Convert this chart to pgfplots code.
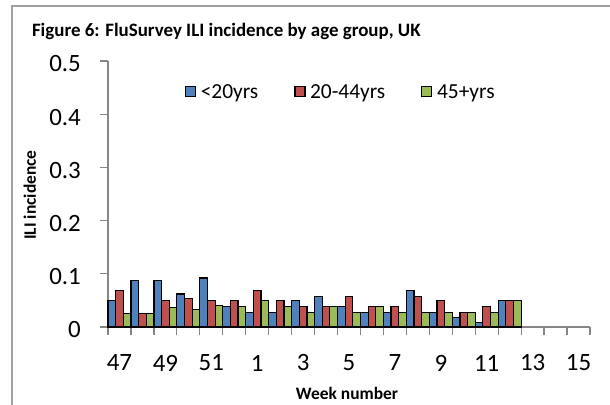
\documentclass[border=0pt]{standalone}
\usepackage{pgfplots}
\pgfplotsset{compat=1.18}
\usepackage{pgfplotstable}
\usepackage{fontspec}
\setmainfont{Carlito}
\definecolor{cblue}{HTML}{4F81BD}
\definecolor{cred}{HTML}{C0504D}
\definecolor{cgreen}{HTML}{9BBB59}
\definecolor{axgray}{HTML}{868686}
\definecolor{framegray}{HTML}{A0A0A0}
\pgfplotstableread{
x b r g
0 0.050 0.069 0.025
1 0.088 0.025 0.025
2 0.088 0.050 0.037
3 0.062 0.053 0.033
4 0.092 0.050 0.041
5 0.038 0.050 0.038
6 0.027 0.069 0.050
7 0.027 0.050 0.038
8 0.050 0.038 0.027
9 0.057 0.038 0.038
10 0.038 0.057 0.027
11 0.027 0.038 0.038
12 0.027 0.038 0.027
13 0.069 0.057 0.027
14 0.027 0.050 0.027
15 0.018 0.027 0.027
16 0.008 0.038 0.027
17 0.050 0.050 0.050
}\datatable
\pgfplotsset{sq/.style={legend image code/.code={%
  \draw[fill=#1, draw=black, line width=1.2bp] (0bp,-4.5bp) rectangle (10bp,5.5bp);\path (13bp,0bp);}}}
\begin{document}
\begin{tikzpicture}
\useasboundingbox (0bp,0bp) rectangle (610bp,405bp);
\draw[framegray, line width=1.2bp] (12bp,-20bp) -- (12bp,399bp) -- (650bp,399bp);
\begin{axis}[
  scale only axis,
  width=482bp, height=266bp,
  at={(108bp,78bp)}, anchor=south west,
  xmin=-0.5, xmax=20.5,
  ymin=0, ymax=0.5,
  axis x line*=bottom, axis y line*=left,
  axis line style={axgray, line width=1.2bp, -},
  ytick={0,0.1,0.2,0.3,0.4,0.5},
  yticklabels={0,0.1,0.2,0.3,0.4,0.5},
  xtick={0,2,...,20},
  xticklabels={47,49,51,1,3,5,7,9,11,13,15},
  minor xtick={-0.5,0.5,...,20.5},
  major x tick style={draw=none},
  minor x tick style={axgray, line width=1.2bp},
  minor tick length=8bp,
  y tick style={axgray, line width=1.2bp},
  major tick length=8bp,
  tick align=outside,
  tick label style={font=\fontsize{25}{30}\selectfont},
  /pgf/number format/assume math mode=true,
  yticklabel style={anchor=east, inner sep=0pt, xshift=-19bp, yshift=-3bp},
  xticklabel style={anchor=center, inner sep=0pt, yshift=-28bp},
  xlabel={\textbf{Week number}},
  ylabel={\textbf{ILI incidence}},
  label style={font=\fontsize{17.5}{20}\selectfont},
  xlabel style={at={(axis description cs:0.496,-0.248)}, anchor=center},
  ylabel style={at={(axis description cs:-0.162,0.496)}, anchor=center, rotate=0},
  title={\textbf{Figure 6: FluSurvey ILI incidence by age group, UK}},
  title style={at={(axis description cs:-0.158,1.088)}, anchor=west, font=\fontsize{19}{22}\selectfont, inner sep=0pt},
  legend columns=3,
  legend style={draw=none, fill=none, at={(axis description cs:0.483,0.883)}, anchor=center,
    font=\fontsize{21.5}{24}\selectfont, /tikz/every even column/.append style={column sep=34bp}},
  clip=false,
]
\addplot[ybar, forget plot, bar width=0.3333, bar shift=-0.3333, fill=cblue, draw=black, line width=1.2bp] table[x=x,y=b]{\datatable};
\addplot[ybar, forget plot, bar width=0.3333, bar shift=0, fill=cred, draw=black, line width=1.2bp] table[x=x,y=r]{\datatable};
\addplot[ybar, forget plot, bar width=0.3333, bar shift=0.3333, fill=cgreen, draw=black, line width=1.2bp] table[x=x,y=g]{\datatable};
\addlegendimage{sq=cblue}
\addlegendentry{<20yrs}
\addlegendimage{sq=cred}
\addlegendentry{20-44yrs}
\addlegendimage{sq=cgreen}
\addlegendentry{45+yrs}
\end{axis}
\end{tikzpicture}
\end{document}
